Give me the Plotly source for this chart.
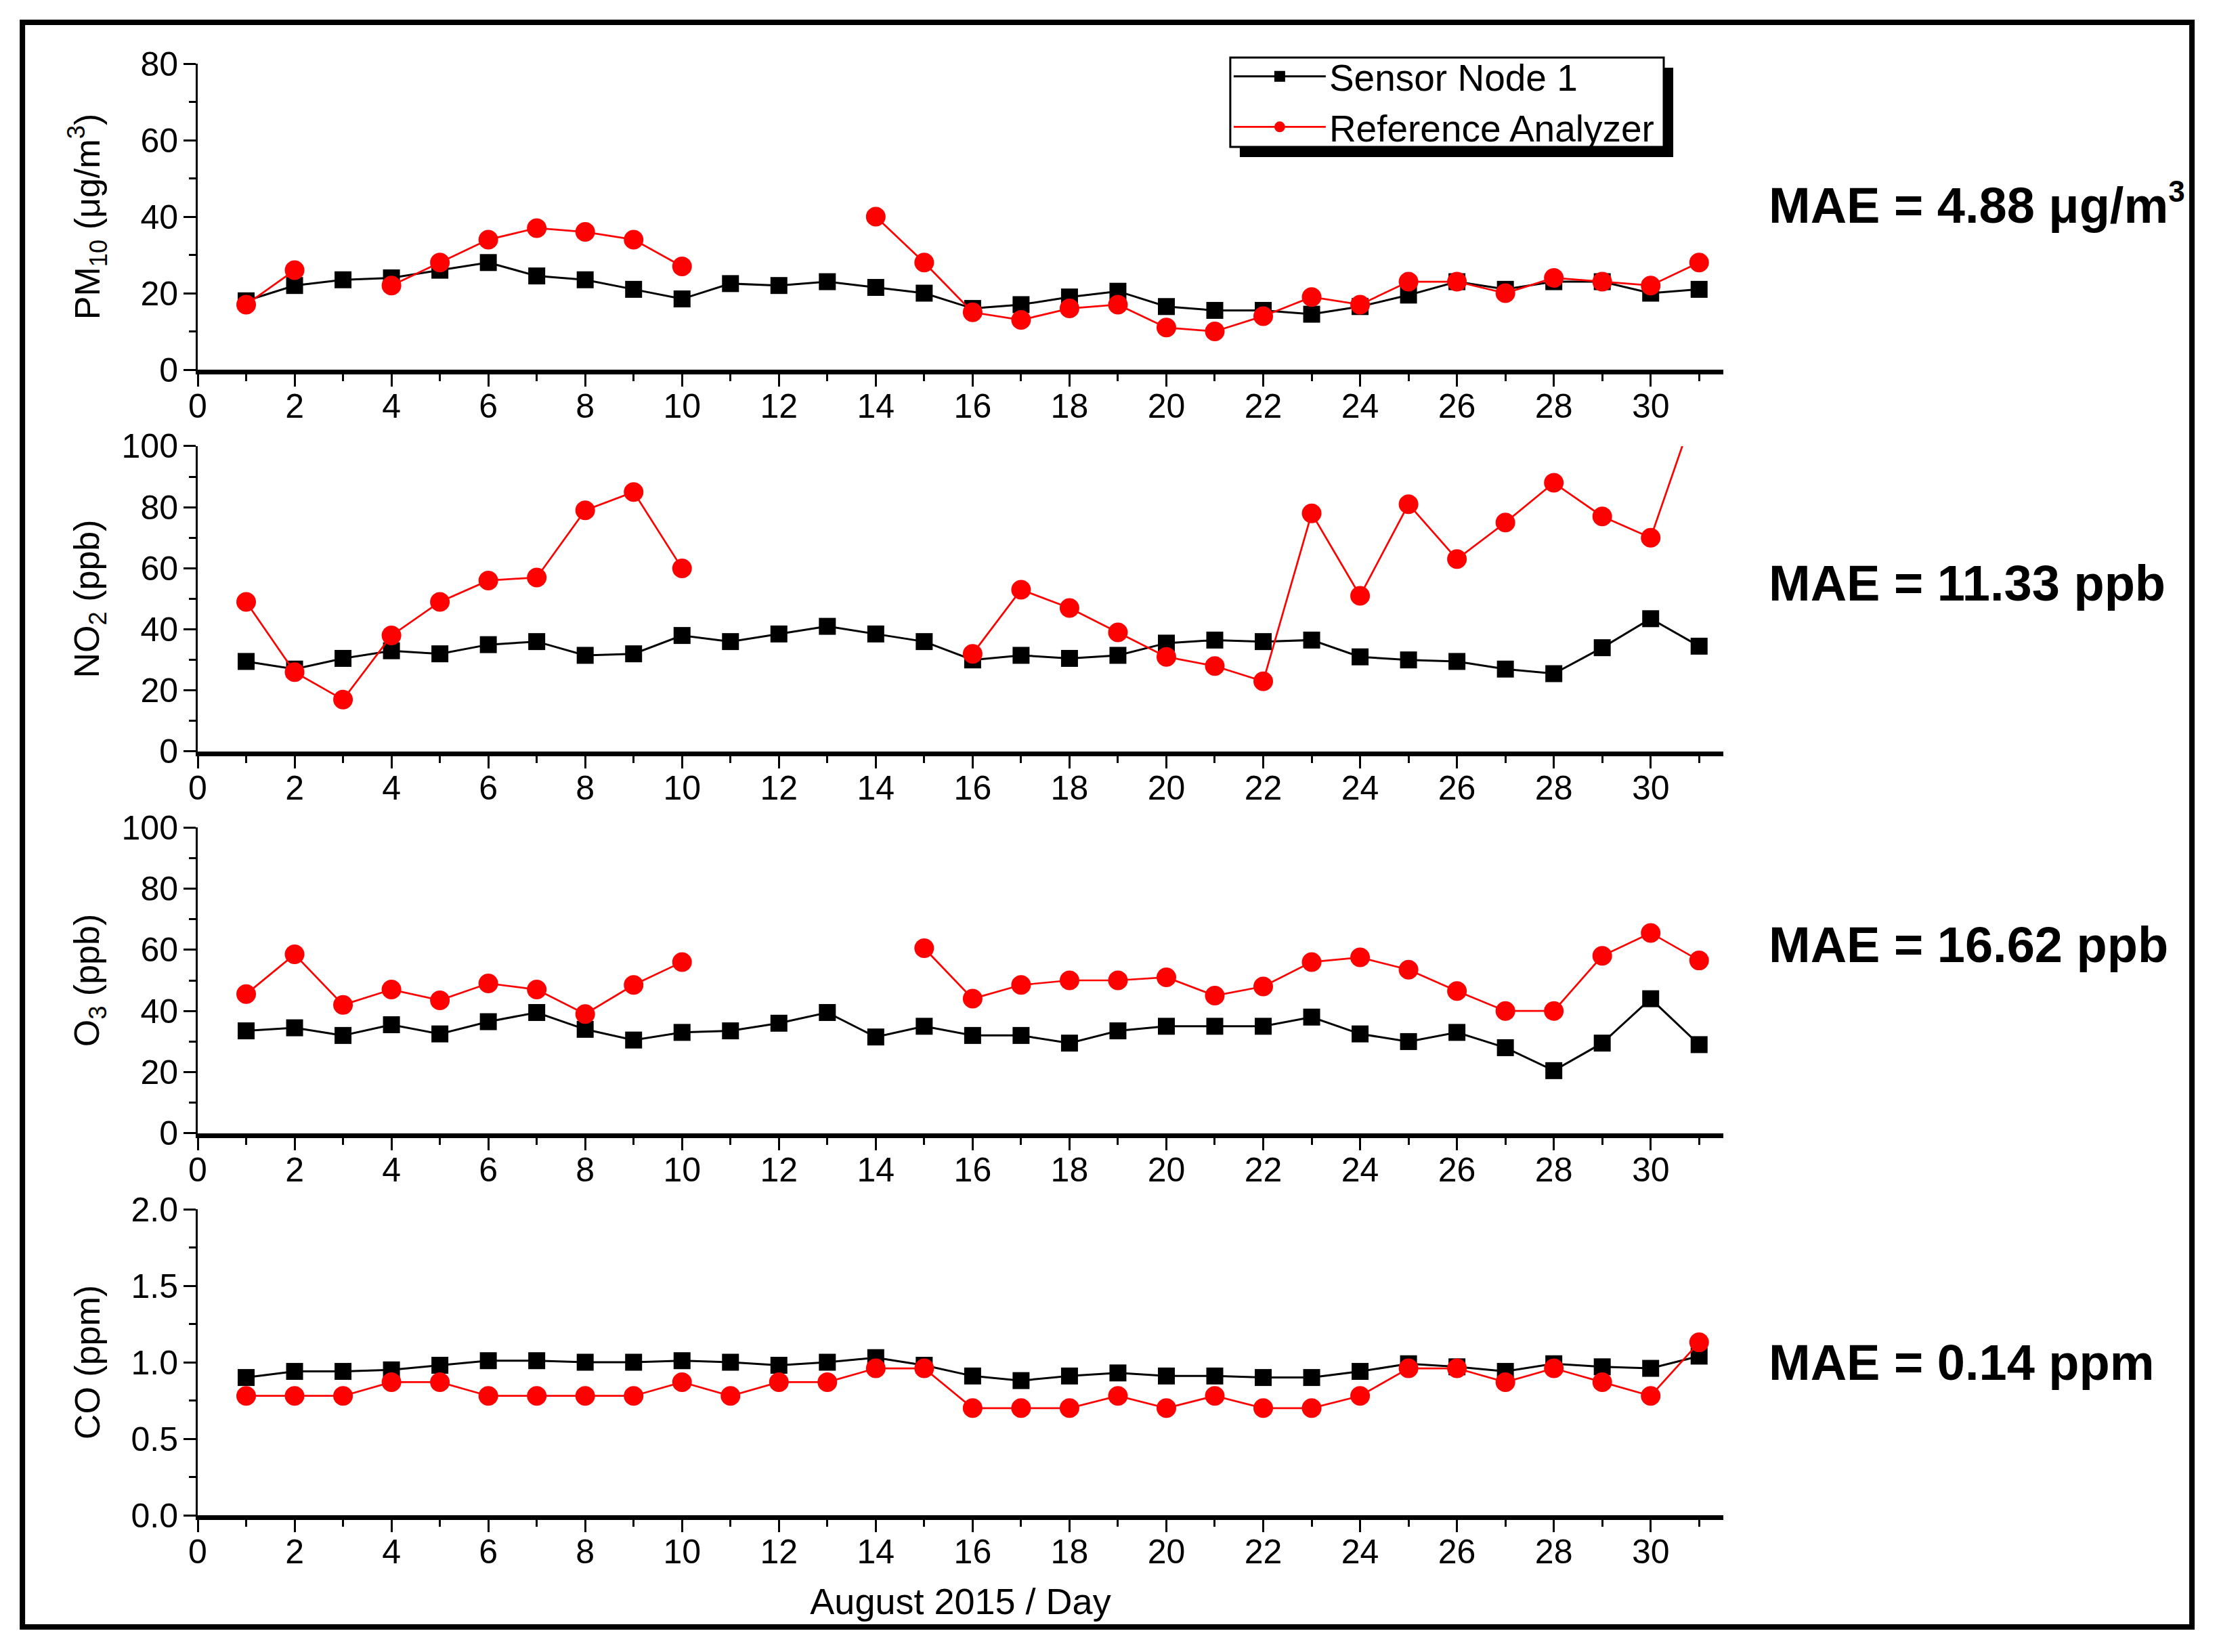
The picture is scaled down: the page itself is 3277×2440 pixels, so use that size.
import plotly.graph_objects as go

# days of August 2015
days = list(range(1, 32))

# PM10 (ug/m3)
pm10_sensor = [18, 22, 23.5, 24, 26, 28, 24.5, 23.5, 21, 18.5, 22.5, 22, 23, 21.5, 20, 16,
               17, 19, 20.5, 16.5, 15.5, 15.5, 14.5, 16.5, 19.5, 23, 21, 23, 23, 20, 21]
pm10_ref = [17, 26, None, 22, 28, 34, 37, 36, 34, 27, None, None, None, 40, 28, 15,
            13, 16, 17, 11, 10, 14, 19, 17, 23, 23, 20, 24, 23, 22, 28]

# NO2 (ppb)
no2_sensor = [29.5, 27, 30.5, 33, 32, 35, 36, 31.5, 32, 38, 36, 38.5, 41, 38.5, 36, 30,
              31.5, 30.5, 31.5, 35.5, 36.5, 36, 36.5, 31, 30, 29.5, 27, 25.5, 34, 43.5, 34.5]
no2_ref = [49, 26, 17, 38, 49, 56, 57, 79, 85, 60, None, None, None, None, None, 32,
           53, 47, 39, 31, 28, 23, 78, 51, 81, 63, 75, 88, 77, 70, 116]

# O3 (ppb)
o3_sensor = [33.5, 34.5, 32, 35.5, 32.5, 36.5, 39.5, 34, 30.5, 33, 33.5, 36, 39.5, 31.5, 35, 32,
             32, 29.5, 33.5, 35, 35, 35, 38, 32.5, 30, 33, 28, 20.5, 29.5, 44, 29]
o3_ref = [45.5, 58.5, 42, 47, 43.5, 49, 47, 39, 48.5, 56, None, None, None, None, 60.5, 44,
          48.5, 50, 50, 51, 45, 48, 56, 57.5, 53.5, 46.5, 40, 40, 58, 65.5, 56.5]

# CO (ppm)
co_sensor = [0.90, 0.94, 0.94, 0.95, 0.98, 1.01, 1.01, 1.00, 1.00, 1.01, 1.00, 0.98, 1.00, 1.03, 0.98, 0.91,
             0.88, 0.91, 0.93, 0.91, 0.91, 0.90, 0.90, 0.94, 0.99, 0.97, 0.94, 0.99, 0.97, 0.96, 1.04]
co_ref = [0.78, 0.78, 0.78, 0.87, 0.87, 0.78, 0.78, 0.78, 0.78, 0.87, 0.78, 0.87, 0.87, 0.96, 0.96, 0.70,
          0.70, 0.70, 0.78, 0.70, 0.78, 0.70, 0.70, 0.78, 0.96, 0.96, 0.87, 0.96, 0.87, 0.78, 1.13]

y_titles = ["PM<sub>10</sub> (μg/m<sup>3</sup>)", "NO<sub>2</sub> (ppb)", "O<sub>3</sub> (ppb)", "CO (ppm)"]
y_ranges = [[0, 80], [0, 100], [0, 100], [0, 2.0]]
y_dticks = [20, 20, 20, 0.5]
mae_texts = ["MAE = 4.88 μg/m<sup><span style='font-size:44px'>3</span></sup>",
             "MAE = 11.33 ppb", "MAE = 16.62 ppb", "MAE = 0.14 ppm"]

series = [(pm10_sensor, pm10_ref), (no2_sensor, no2_ref), (o3_sensor, o3_ref), (co_sensor, co_ref)]

FONT = "Liberation Sans, Arial, sans-serif"

# panel placement (paper coords); page body keeps an 8px margin
domains = [[0.77805, 0.96452], [0.54538, 0.73144], [0.31271, 0.49917], [0.08003, 0.26650]]
mae_y = [0.8790, 0.6477, 0.4274, 0.1729]
title_standoff = [44, 17, 17, 30]

fig = go.Figure()

for i, (sensor, ref) in enumerate(series):
    n = "" if i == 0 else str(i + 1)
    fig.add_trace(go.Scatter(
        x=days, y=sensor, name="Sensor Node 1", mode="lines+markers",
        line=dict(color="black", width=3),
        marker=dict(symbol="square", size=25, color="black"),
        xaxis="x" + n, yaxis="y" + n, legendgroup="s", showlegend=(i == 0),
    ))
    fig.add_trace(go.Scatter(
        x=days, y=ref, name="Reference Analyzer", mode="lines+markers",
        line=dict(color="#ff0000", width=2.7),
        marker=dict(symbol="circle", size=29, color="#ff0000"),
        connectgaps=False,
        xaxis="x" + n, yaxis="y" + n, legendgroup="r", showlegend=(i == 0),
    ))

    xa = dict(
        domain=[0.08709, 0.77798], range=[0, 31.5], anchor="y" + n,
        tickmode="linear", tick0=0, dtick=2,
        ticks="outside", ticklen=18, tickwidth=3, tickcolor="black",
        minor=dict(ticks="outside", ticklen=10, tickwidth=3, tickcolor="black", dtick=1, tick0=0),
        showline=True, linecolor="black", linewidth=7,
        showgrid=False, zeroline=False, automargin=False,
        tickfont=dict(family=FONT, size=50, color="black"),
        ticklabelstandoff=-14,
    )
    if i == 3:
        xa["title"] = dict(text="August 2015 / Day", standoff=30,
                           font=dict(family=FONT, size=54, color="black"))
    ya = dict(
        domain=domains[i], range=y_ranges[i], anchor="x" + n,
        tickmode="linear", tick0=0, dtick=y_dticks[i],
        ticks="outside", ticklen=18, tickwidth=3, tickcolor="black",
        minor=dict(ticks="outside", ticklen=10, tickwidth=3, tickcolor="black", dtick=y_dticks[i] / 2),
        showline=True, linecolor="black", linewidth=3,
        showgrid=False, zeroline=False, automargin=False,
        tickfont=dict(family=FONT, size=50, color="black"),
        ticklabelstandoff=-2,
        title=dict(text=y_titles[i], standoff=title_standoff[i],
                   font=dict(family=FONT, size=52, color="black")),
    )
    if i == 3:
        ya["tickformat"] = ".1f"
    fig.update_layout(**{"xaxis" + n: xa, "yaxis" + n: ya})

    fig.add_annotation(
        x=0.7980, y=mae_y[i], xref="paper", yref="paper",
        xanchor="left", yanchor="middle", showarrow=False,
        text="<b>" + mae_texts[i] + "</b>",
        font=dict(family=FONT, size=74, color="black"),
    )

# legend frame: shadow, then white box with border
fig.add_shape(type="rect", xref="paper", yref="paper",
              x0=0.5590, x1=0.7553, y0=0.9076, y1=0.9620,
              fillcolor="black", line=dict(width=0), layer="below")
fig.add_shape(type="rect", xref="paper", yref="paper",
              x0=0.5547, x1=0.7510, y0=0.9138, y1=0.9682,
              fillcolor="white", line=dict(color="black", width=3), layer="below")

# outer frame
fig.add_shape(type="rect", xref="paper", yref="paper",
              x0=0.0077, x1=0.9902, y0=0.0120, y1=0.9897,
              line=dict(color="black", width=8), fillcolor="rgba(0,0,0,0)")

fig.update_layout(
    width=3261, height=2424,
    margin=dict(l=0, r=0, t=0, b=0),
    paper_bgcolor="white", plot_bgcolor="rgba(0,0,0,0)",
    template="none",
    font=dict(family=FONT, color="black"),
    legend=dict(
        x=0.5547, y=0.9742, xanchor="left", yanchor="top",
        bgcolor="rgba(0,0,0,0)", borderwidth=0,
        font=dict(family=FONT, size=55, color="black"),
        tracegroupgap=0, itemwidth=136,
    ),
)

fig.write_html("out.html")
